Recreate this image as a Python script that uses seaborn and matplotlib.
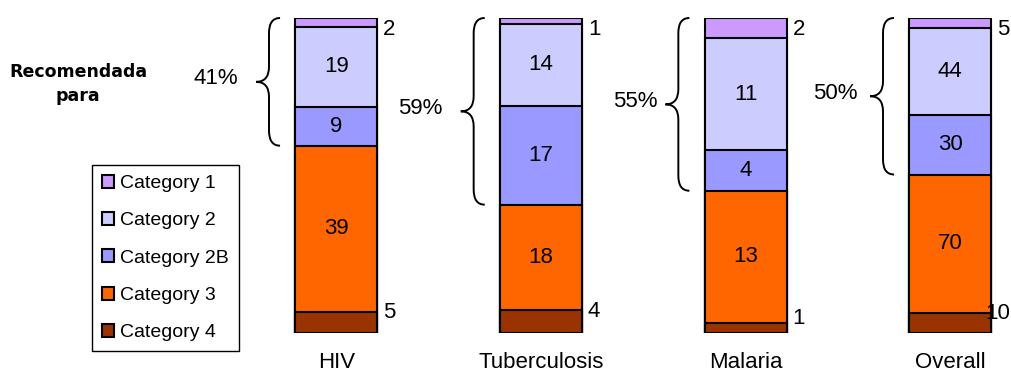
import numpy as np
import pandas as pd
import matplotlib
matplotlib.use("Agg")
import matplotlib.pyplot as plt
from matplotlib.path import Path
from matplotlib.patches import PathPatch, Patch
import seaborn as sns

# ---- data ----
groups = ["HIV", "Tuberculosis", "Malaria", "Overall"]
categories = ["Category 1", "Category 2", "Category 2B", "Category 3", "Category 4"]
cat1 = [2, 1, 2, 5]
cat2 = [19, 14, 11, 44]
cat2b = [9, 17, 4, 30]
cat3 = [39, 18, 13, 70]
cat4 = [5, 4, 1, 10]
palette = ["#CC99FF", "#CCCCFF", "#9999FF", "#FF6600", "#993300"]
side_note = "Recomendada\npara"

sns.set_style("white")
plt.rcParams["font.family"] = ["Liberation Sans", "DejaVu Sans"]
plt.rcParams["text.color"] = "black"
plt.rcParams["xtick.color"] = "black"

values = {"Category 1": cat1, "Category 2": cat2, "Category 2B": cat2b,
          "Category 3": cat3, "Category 4": cat4}
totals = np.sum([cat1, cat2, cat2b, cat3, cat4], axis=0)

# long table with share of each segment and its cumulative top (stacked bottom->top: Cat4 ... Cat1)
rows = []
stack_order = categories[::-1]
for gi, g in enumerate(groups):
    base = 0.0
    for c in stack_order:
        share = values[c][gi] / totals[gi]
        rows.append(dict(group=g, category=c, value=values[c][gi],
                         share=share, bottom=base, top=base + share))
        base += share
df = pd.DataFrame(rows)

fig = plt.figure(figsize=(10.11, 3.76), dpi=100)
ax = fig.add_axes([234 / 1011, 43 / 376, 777 / 1011, 315 / 376])

color_of = dict(zip(categories, palette))
bar_w = 0.4
# draw cumulative bars from the top layer downward so each layer covers the one above
for c in categories:
    sub = df[df["category"] == c]
    sns.barplot(data=sub, x="group", y="top", order=groups, color=color_of[c],
                saturation=1, edgecolor="black", linewidth=1.5, width=bar_w,
                errorbar=None, ax=ax)

ax.set_xlim(-0.5, -0.5 + 777 / 204.67)
ax.set_ylim(0, 1)
for s in ax.spines.values():
    s.set_visible(False)
ax.set_yticks([])
ax.set_xlabel("")
ax.set_ylabel("")
ax.tick_params(axis="x", length=0, pad=14, labelsize=16, labelcolor="black")

# segment labels: large segments inside, thin top/bottom segments beside the bar
side_x = bar_w / 2 + 0.09
for _, r in df.iterrows():
    gi = groups.index(r["group"])
    if r["category"] in ("Category 2", "Category 2B", "Category 3"):
        ax.text(gi, (r["bottom"] + r["top"]) / 2, f"{r['value']}", ha="center",
                va="center", fontsize=16)
    elif r["category"] == "Category 1":
        ax.text(gi + side_x, 0.963, f"{r['value']}",
                ha="right", va="center", fontsize=16, clip_on=False)
    else:
        ax.text(gi + side_x, (r["top"] + 0.06) / 2, f"{r['value']}",
                ha="right", va="center", fontsize=16, clip_on=False)


def brace(ax, x_r, y0, y1, dx1=0.054, dx2=0.063, ry=0.048):
    x_m = x_r - dx1
    x_t = x_m - dx2
    ym = (y0 + y1) / 2
    verts = [(x_r, y1), (x_m, y1), (x_m, y1 - ry),
             (x_m, ym + ry),
             (x_m, ym), (x_t, ym),
             (x_m, ym), (x_m, ym - ry),
             (x_m, y0 + ry),
             (x_m, y0), (x_r, y0)]
    codes = [Path.MOVETO, Path.CURVE3, Path.CURVE3,
             Path.LINETO,
             Path.CURVE3, Path.CURVE3,
             Path.CURVE3, Path.CURVE3,
             Path.LINETO,
             Path.CURVE3, Path.CURVE3]
    ax.add_patch(PathPatch(Path(verts, codes), facecolor="none", edgecolor="black",
                           linewidth=1.4, clip_on=False))


# braces over the recommended share (Category 1 + 2 + 2B)
pct_dx = [-0.59, -0.59, -0.54, -0.56]
for gi, g in enumerate(groups):
    rec = (cat1[gi] + cat2[gi] + cat2b[gi]) / totals[gi]
    y0 = 1 - rec
    brace(ax, gi - bar_w / 2 - 0.075, y0, 1.0)
    ax.text(gi + pct_dx[gi], (y0 + 1) / 2 + 0.01, f"{round(rec * 100):.0f}%",
            ha="center", va="center", fontsize=16, clip_on=False)

fig.text(78 / 1011, 1 - 84 / 376, side_note, ha="center", va="center",
         fontsize=12.5, fontweight="bold", family="DejaVu Sans", linespacing=1.4)

handles = [Patch(facecolor=color_of[c], edgecolor="black", linewidth=1.5, label=c)
           for c in categories]
leg = fig.legend(handles=handles, loc="upper left",
                 bbox_to_anchor=(92 / 1011, 1 - 165 / 376), borderaxespad=0,
                 fontsize=14, frameon=True, fancybox=False, framealpha=1,
                 edgecolor="black", handlelength=0.65, handleheight=0.65,
                 handletextpad=0.3, labelspacing=1.03, borderpad=0.5)
leg.get_frame().set_linewidth(1.0)
for t in leg.get_texts():
    t.set_color("black")

fig.savefig("out.png", dpi=100)
